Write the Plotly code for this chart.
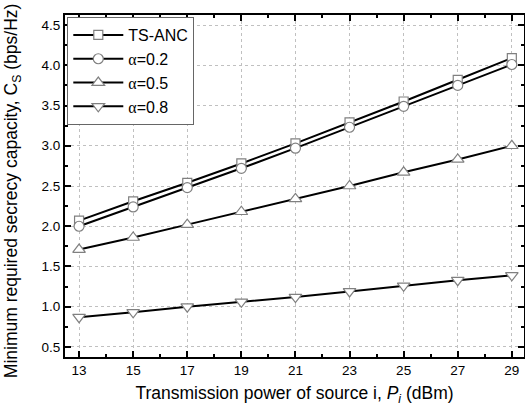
import plotly.graph_objects as go

power = [13, 15, 17, 19, 21, 23, 25, 27, 29]
ts_anc = [2.07, 2.31, 2.54, 2.78, 3.03, 3.29, 3.55, 3.82, 4.09]
alpha02 = [2.00, 2.24, 2.48, 2.72, 2.97, 3.23, 3.49, 3.75, 4.01]
alpha05 = [1.71, 1.86, 2.02, 2.18, 2.34, 2.50, 2.67, 2.83, 3.00]
alpha08 = [0.87, 0.93, 1.00, 1.06, 1.12, 1.19, 1.26, 1.33, 1.39]

y_title = "Minimum required secrecy capacity, C<sub>S</sub> (bps/Hz)"
x_title = "Transmission power of source i, <i>P</i><sub><i>i</i></sub> (dBm)"

alpha = '<span style="font-family:\'Liberation Serif\', serif">α</span>'
series = [
    ("TS-ANC", ts_anc, "square", 9),
    (alpha + "=0.2", alpha02, "circle", 10),
    (alpha + "=0.5", alpha05, "triangle-up", 11),
    (alpha + "=0.8", alpha08, "triangle-down", 11),
]

fig = go.Figure()
for name, ys, sym, sz in series:
    fig.add_trace(go.Scatter(
        x=power, y=ys, name=name, mode="lines+markers",
        line=dict(color="black", width=2),
        marker=dict(symbol=sym, size=sz, color="white", line=dict(width=1.2, color="#808080")),
    ))

axis_common = dict(
    showline=True, linecolor="black", linewidth=2, mirror="ticks",
    ticks="inside", ticklen=6, tickwidth=1.5, tickcolor="black",
    showgrid=True, gridcolor="#c0c0c0", griddash="dot", gridwidth=1,
    zeroline=False, automargin=False,
    tickfont=dict(family="Liberation Sans, Arial", size=13.5, color="black"),
)

fig.update_xaxes(
    range=[12.48, 29.45], tickvals=power, ticktext=[str(p) for p in power],
    minor=dict(ticks="inside", ticklen=3, dtick=1, tick0=13, tickcolor="black", showgrid=False),
    title=dict(text=x_title,
               font=dict(family="Liberation Sans, Arial", size=17.5, color="black"), standoff=10),
    **axis_common,
)
fig.update_yaxes(
    range=[0.375, 4.625], tickvals=[0.5, 1.0, 1.5, 2.0, 2.5, 3.0, 3.5, 4.0, 4.5],
    ticktext=["0.5", "1.0", "1.5", "2.0", "2.5", "3.0", "3.5", "4.0", "4.5"],
    minor=dict(ticks="inside", ticklen=3, dtick=0.25, tick0=0.5, tickcolor="black", showgrid=False),
    **axis_common,
)

fig.add_annotation(
    text=y_title, xref="paper", yref="paper", x=0, y=0.485, xshift=-53,
    xanchor="center", yanchor="middle", textangle=-90, showarrow=False,
    font=dict(family="Liberation Sans, Arial", size=17.5, color="black"),
)

fig.update_layout(
    width=525, height=413,
    margin=dict(l=65, r=1, t=15, b=56),
    plot_bgcolor="white", paper_bgcolor="white",
    font=dict(family="Liberation Sans, Arial", color="black"),
    legend=dict(x=0.005, y=0.994, xanchor="left", yanchor="top",
                bgcolor="white", bordercolor="#666666", borderwidth=1,
                font=dict(family="Liberation Sans, Arial", size=16, color="black"),
                tracegroupgap=0, itemwidth=50),
    showlegend=True,
)

fig.write_html("out.html", config={"displayModeBar": False},
               post_script="document.body.style.margin='0';document.body.style.overflow='hidden';")
